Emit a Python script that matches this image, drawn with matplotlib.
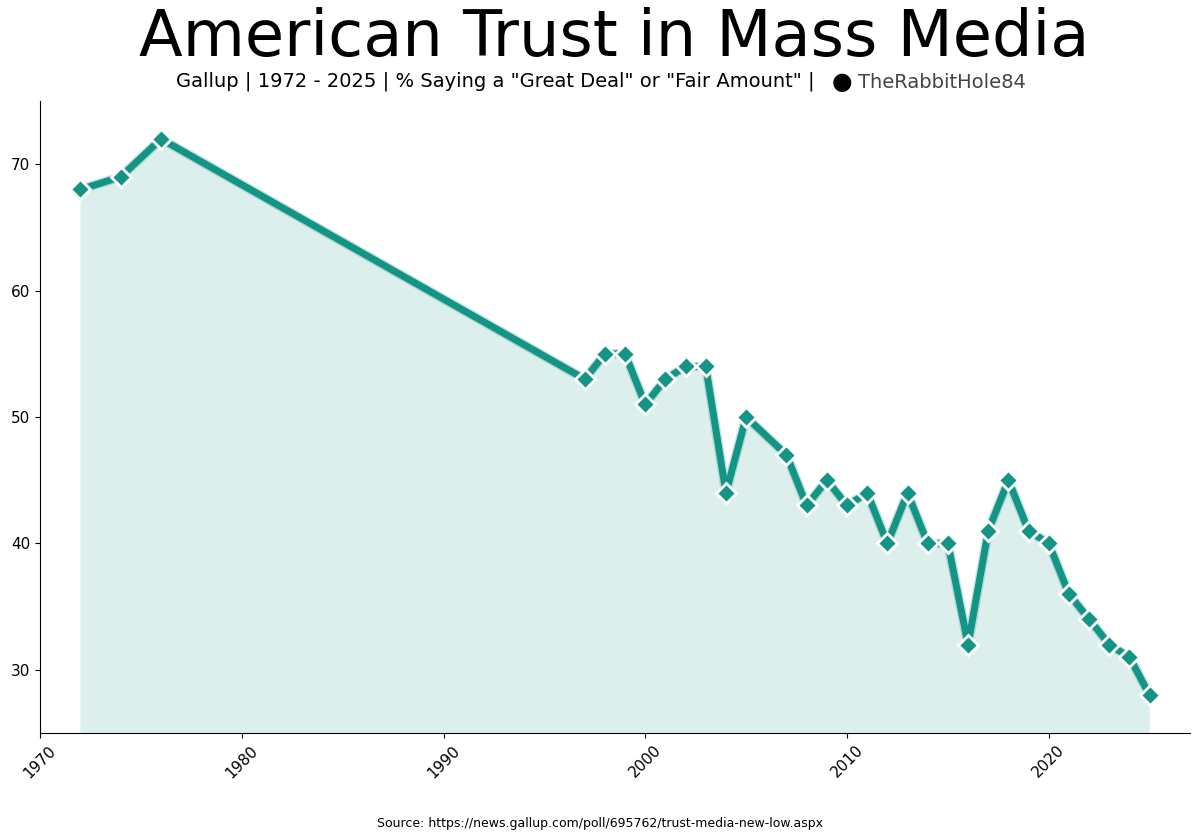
import numpy as np
import matplotlib.pyplot as plt
import matplotlib.patheffects as pe

# Gallup trust in mass media
years = [1972, 1974, 1976, 1997, 1998, 1999, 2000, 2001, 2002, 2003, 2004,
         2005, 2007, 2008, 2009, 2010, 2011, 2012, 2013, 2014, 2015, 2016,
         2017, 2018, 2019, 2020, 2021, 2022, 2023, 2024, 2025]
trust = [68, 69, 72, 53, 55, 55, 51, 53, 54, 54, 44,
         50, 47, 43, 45, 43, 44, 40, 44, 40, 40, 32,
         41, 45, 41, 40, 36, 34, 32, 31, 28]

teal = '#149485'

fig = plt.figure(figsize=(12, 8.4), dpi=100)
ax = fig.add_axes([40 / 1200, 1 - 733 / 840, 1150 / 1200, 632 / 840])

ax.fill_between(years, trust, 0, color=teal, alpha=0.14, linewidth=0)
# line with a soft glow, markers drawn on top without it
ax.plot(years, trust, color=teal, linewidth=5,
        path_effects=[pe.Stroke(linewidth=7, foreground=teal, alpha=0.25), pe.Normal()])
ax.plot(years, trust, linestyle='none', marker='D', markersize=10,
        markerfacecolor=teal, markeredgecolor='white', markeredgewidth=2)

ax.set_xlim(1970, 2027)
ax.set_ylim(25, 75)
ax.set_xticks([1970, 1980, 1990, 2000, 2010, 2020])
ax.set_yticks([30, 40, 50, 60, 70])
ax.tick_params(axis='both', labelsize=11)
plt.setp(ax.get_xticklabels(), rotation=45)
ax.spines['top'].set_visible(False)
ax.spines['right'].set_visible(False)

fig.text(0.512, 1 - 38 / 840, 'American Trust in Mass Media', ha='center', va='center',
         fontsize=46)
fig.text(0.413, 1 - 81 / 840, 'Gallup | 1972 - 2025 | % Saying a "Great Deal" or "Fair Amount" |',
         ha='center', va='center', fontsize=14)
fig.text(842 / 1200, 1 - 82 / 840, '\u25CF', ha='center', va='center', fontsize=17,
         color='black')
fig.text(858 / 1200, 1 - 83 / 840, 'TheRabbitHole84', ha='left', va='center',
         fontsize=14, color='#444444')
fig.text(0.5, 1 - 823 / 840, 'Source: https://news.gallup.com/poll/695762/trust-media-new-low.aspx',
         ha='center', va='center', fontsize=9)

fig.savefig('out.png', dpi=100)
